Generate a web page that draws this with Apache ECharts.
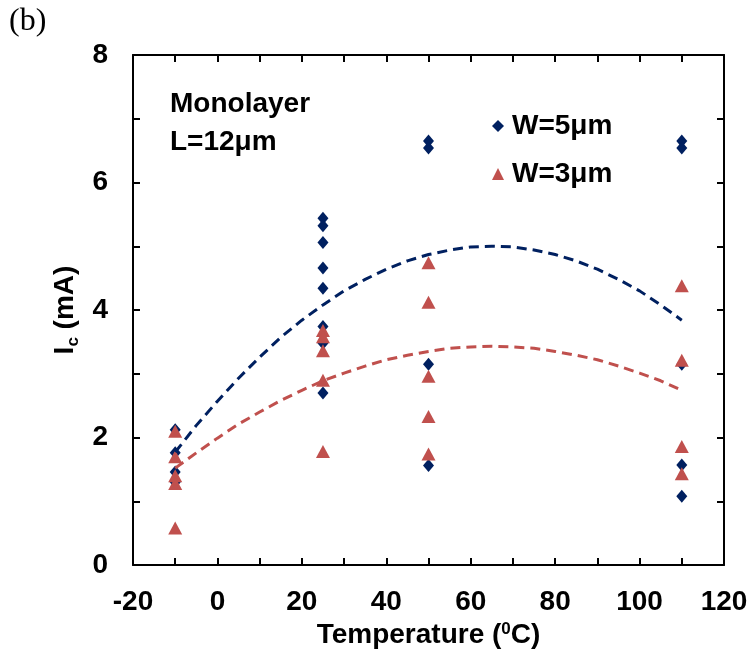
<!DOCTYPE html>
<html>
<head>
<meta charset="utf-8">
<script src="https://cdn.jsdelivr.net/npm/echarts@6/dist/echarts.min.js"></script>
<style>
html,body{margin:0;padding:0;background:#fff;}
#chart{width:752px;height:661px;}
</style>
</head>
<body>
<div id="chart"></div>
<script>
// ---- data ----
const w5Temp = [-10,-10,-10,-10, 25,25,25,25,25,25,25,25, 50,50,50,50, 110,110,110,110,110];
const w5Ic   = [2.12,1.76,1.46,1.30, 5.44,5.32,5.06,4.66,4.34,3.74,3.48,2.70, 6.65,6.54,3.15,1.56, 6.65,6.54,3.15,1.57,1.08];

const w3Temp = [-10,-10,-10,-10,-10, 25,25,25,25,25, 50,50,50,50,50, 110,110,110,110];
const w3Ic   = [2.10,1.70,1.40,1.28,0.58, 3.68,3.58,3.36,2.90,1.78, 4.74,4.12,2.96,2.33,1.74, 4.38,3.21,1.86,1.43];

// dashed trend curves, every 5 °C
const fitTemp = [-10,-5,0,5,10,15,20,25,30,35,40,45,50,55,60,65,70,75,80,85,90,95,100,105,110];
const fitW5   = [1.77,2.19,2.57,2.93,3.26,3.57,3.84,4.08,4.30,4.48,4.64,4.77,4.87,4.94,4.99,5.00,4.99,4.94,4.87,4.77,4.64,4.48,4.30,4.08,3.84];
const fitW3   = [1.52,1.76,1.99,2.21,2.40,2.58,2.74,2.89,3.01,3.12,3.22,3.29,3.35,3.40,3.42,3.43,3.42,3.40,3.35,3.29,3.22,3.12,3.01,2.89,2.74];

const seriesNames = ['W=5μm', 'W=3μm'];
const xTicks = {min:-20, max:120, step:20};
const yTicks = {min:0, max:8, step:2};

// ---- styles ----
const NAVY = '#002060';
const RED = '#C0504D';
const FONT = '"Liberation Sans", Arial, sans-serif';
const FS = 28;

const zip = (a, b) => a.map((v, i) => [v, b[i]]);

const chart = echarts.init(document.getElementById('chart'), null, {renderer:'canvas'});

const lineStyleAxis = {color:'#000', width:2};
function xAxisCfg(pos, showLabel, name) {
  return {
    type:'value', position:pos, min:xTicks.min, max:xTicks.max, interval:xTicks.step,
    axisLine:{show:true, onZero:false, lineStyle:lineStyleAxis},
    axisTick:{show:true, inside:true, length:7, lineStyle:lineStyleAxis},
    minorTick:{show:true, splitNumber:2, length:7, lineStyle:lineStyleAxis},
    splitLine:{show:false}, minorSplitLine:{show:false},
    axisLabel:{show:showLabel, color:'#000', fontFamily:FONT, fontWeight:'bold', fontSize:FS, margin:23},
    name: name || '',
    nameLocation:'middle', nameGap:53,
    nameTextStyle:{
      color:'#000',
      rich:{
        a:{fontFamily:FONT, fontWeight:'bold', fontSize:FS, lineHeight:28, verticalAlign:'bottom', color:'#000'},
        sup:{fontFamily:FONT, fontWeight:'bold', fontSize:17, lineHeight:28, verticalAlign:'top', color:'#000'}
      }
    }
  };
}
function yAxisCfg(pos, showLabel, name) {
  return {
    type:'value', position:pos, min:yTicks.min, max:yTicks.max, interval:yTicks.step,
    axisLine:{show:true, onZero:false, lineStyle:lineStyleAxis},
    axisTick:{show:true, inside:true, length:7, lineStyle:lineStyleAxis},
    minorTick:{show:true, splitNumber:2, length:7, lineStyle:lineStyleAxis},
    splitLine:{show:false}, minorSplitLine:{show:false},
    axisLabel:{show:showLabel, color:'#000', fontFamily:FONT, fontWeight:'bold', fontSize:FS, margin:25},
    name: name || '',
    nameLocation:'middle', nameRotate:90, nameGap:32,
    nameTextStyle:{
      color:'#000',
      rich:{
        a:{fontFamily:FONT, fontWeight:'bold', fontSize:FS, lineHeight:28, verticalAlign:'top', color:'#000'},
        sub:{fontFamily:FONT, fontWeight:'bold', fontSize:17, lineHeight:30, verticalAlign:'bottom', color:'#000'}
      }
    }
  };
}

const option = {
  backgroundColor:'#fff',
  animation:false,
  grid:{left:133, right:28, top:55, bottom:96, containLabel:false},
  xAxis:[
    xAxisCfg('bottom', true, '{a|Temperature (}{sup|0}{a|C)}'),
    xAxisCfg('top', false, '')
  ],
  yAxis:[
    yAxisCfg('left', true, '{a|I}{sub|c}{a| (mA)}'),
    yAxisCfg('right', false, '')
  ],
  legend:{
    data:seriesNames,
    orient:'vertical', left:487, top:107, itemGap:20,
    itemWidth:12, itemHeight:12,
    textStyle:{color:'#000', fontFamily:FONT, fontWeight:'bold', fontSize:FS, padding:[0,0,0,3]}
  },
  graphic:[
    {type:'text', left:9, top:6, style:{text:'(b)', fill:'#000', font:'32px "Liberation Serif", "Times New Roman", serif'}},
    {type:'text', left:170, top:90, style:{text:'Monolayer', fill:'#000', font:'bold ' + FS + 'px ' + FONT}},
    {type:'text', left:170, top:128, style:{text:'L=12μm', fill:'#000', font:'bold ' + FS + 'px ' + FONT}}
  ],
  series:[
    {
      name:seriesNames[0], type:'scatter', xAxisIndex:0, yAxisIndex:0,
      symbol:'diamond', symbolSize:[11,13],
      itemStyle:{color:NAVY, opacity:1},
      data:zip(w5Temp, w5Ic), z:2
    },
    {
      name:seriesNames[1], type:'scatter', xAxisIndex:0, yAxisIndex:0,
      symbol:'triangle', symbolSize:[14,13],
      itemStyle:{color:RED, opacity:1},
      data:zip(w3Temp, w3Ic), z:3
    },
    {
      name:'fit5', type:'line', smooth:false, showSymbol:false, symbol:'none',
      lineStyle:{color:NAVY, width:3, type:[10,6]},
      data:zip(fitTemp, fitW5), z:4, silent:true
    },
    {
      name:'fit3', type:'line', smooth:false, showSymbol:false, symbol:'none',
      lineStyle:{color:RED, width:3, type:[10,6]},
      data:zip(fitTemp, fitW3), z:4, silent:true
    }
  ]
};
chart.setOption(option);
</script>
</body>
</html>
